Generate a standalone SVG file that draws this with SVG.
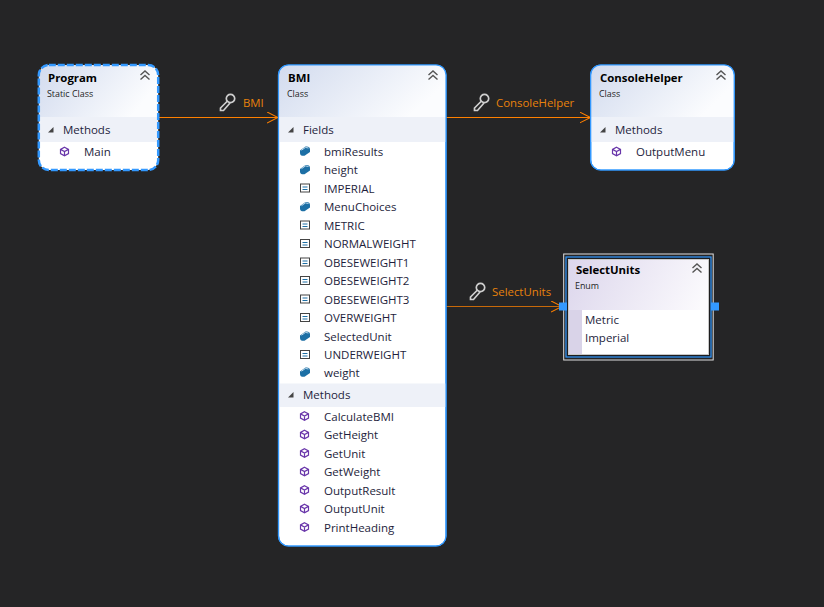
<svg xmlns="http://www.w3.org/2000/svg" width="824" height="607" viewBox="0 0 824 607">
<style>
text{font-family:"Open Sans","Noto Sans","Liberation Sans",sans-serif;font-size:11.5px;fill:#1e1e3c}
.t{font-weight:700;font-size:11.4px;fill:#000}
.s{font-size:8.9px;fill:#1e1e1e}
.l{fill:#e8820c;font-size:11.4px}
.box{fill:#fff;stroke:#3399ff;stroke-width:1.2}
.sec{fill:#eef1f8}
.conn{fill:none;stroke:#ff8000;stroke-width:1.2}
.chev{fill:none;stroke:#555;stroke-width:1.4}
</style>
<defs>
<linearGradient id="hb" x1="0" y1="0" x2="1" y2="0.35"><stop offset="0" stop-color="#d2dbee"/><stop offset="1" stop-color="#fbfcfe"/></linearGradient>
<linearGradient id="he" x1="0" y1="0" x2="1" y2="0.35"><stop offset="0" stop-color="#dcd6ec"/><stop offset="1" stop-color="#fbfafd"/></linearGradient>
<marker id="arr" viewBox="0 0 12 12" refX="11" refY="6" markerWidth="12" markerHeight="12" markerUnits="userSpaceOnUse" orient="auto"><path d="M0 0.5L11 6L0 11.5" fill="none" stroke="#ff8000" stroke-width="1.1"/></marker>
<g id="chevrons"><path class="chev" d="M-4.5 -1L0 -5L4.5 -1M-4.5 3.5L0 -0.5L4.5 3.5"/></g>
<g id="tri"><path d="M-3 2.500L2.500 2.500L2.500 -3Z" fill="#444"/></g>
<g id="method"><path d="M0 -4.300L4 -2.100L4 2.100L0 4.300L-4 2.100L-4 -2.100Z M-4 -2.100L0 0L4 -2.100M0 0L0 4.300" fill="none" stroke="#6936aa" stroke-width="1.2"/></g>
<g id="field"><path d="M-5 -0.500L0.500 -4.500Q5 -5 5 -1.500L5 1L-0.500 4.800Q-5 5.200 -5 2Z" fill="#1c6fa5"/><path d="M-3.500 -0.800L0.500 -3.600L3.500 -3" fill="none" stroke="#cfe3f0" stroke-width="0.9"/></g>
<g id="const"><rect x="-4.500" y="-4" width="9" height="8" fill="#fff" stroke="#444" stroke-width="1"/><path d="M-2.500 -1H2.500M-2.500 1.500H2.500" stroke="#1c6fa5" stroke-width="1"/></g>
<g id="key"><circle cx="3.500" cy="-3.500" r="4.200" fill="none" stroke="#cfcfcf" stroke-width="1.700"/><path d="M0.500 -1L-6.500 6L-6.500 8.500L-3.500 8.500L3 1" fill="none" stroke="#cfcfcf" stroke-width="1.700"/></g>
</defs>
<rect width="824" height="607" fill="#252526"/>

<g id="connectors">
<path class="conn" d="M158 117.500H278" marker-end="url(#arr)"/>
<path class="conn" d="M446 117.500H590.500" marker-end="url(#arr)"/>
<path class="conn" d="M446 306.500H562" stroke-opacity="0.75" marker-end="url(#arr)"/>
<use href="#key" x="227" y="102"/><text class="l" x="243" y="107">BMI</text>
<use href="#key" x="481" y="102"/><text class="l" x="496" y="107">ConsoleHelper</text>
<use href="#key" x="477" y="291"/><text class="l" x="492" y="296">SelectUnits</text>
</g>

<g id="node-program">
<rect x="38.800" y="65" width="119.400" height="105" rx="10" fill="#fff"/>
<path d="M39 117V75a10 10 0 0 1 10-10H148a10 10 0 0 1 10 10V117Z" fill="url(#hb)"/>
<rect class="sec" x="39" y="117" width="119" height="25"/>
<rect x="38.800" y="65" width="119.400" height="105" rx="10" fill="none" stroke="#3399ff" stroke-width="2.500" stroke-dasharray="7 2"/>
<text class="t" x="48" y="82">Program</text><text class="s" x="47" y="97">Static Class</text>
<use href="#chevrons" x="145" y="76"/><use href="#tri" x="51" y="130"/>
<text x="63" y="134">Methods</text>
<use href="#method" x="64.500" y="151.500"/><text x="84" y="156">Main</text>
</g>

<g id="node-bmi">
<rect class="box" x="278.500" y="65" width="167.500" height="481" rx="10"/>
<path d="M279 117V75a10 10 0 0 1 10-10H436a10 10 0 0 1 10 10V117Z" fill="url(#hb)"/>
<rect class="sec" x="279" y="117" width="167" height="25"/>
<rect class="sec" x="279" y="383.500" width="167" height="23.500"/>
<rect x="278.500" y="65" width="167.500" height="481" rx="10" fill="none" stroke="#3399ff" stroke-width="1.200"/>
<text class="t" x="288" y="82">BMI</text><text class="s" x="287" y="97">Class</text>
<use href="#chevrons" x="433" y="76"/><use href="#tri" x="291" y="130"/>
<text x="303" y="134">Fields</text>
<use href="#field" x="305" y="151"/><text x="324" y="156">bmiResults</text>
<use href="#field" x="305" y="169.500"/><text x="324" y="174">height</text>
<use href="#const" x="305" y="188"/><text x="324" y="193">IMPERIAL</text>
<use href="#field" x="305" y="206.500"/><text x="324" y="211">MenuChoices</text>
<use href="#const" x="305" y="225"/><text x="324" y="230">METRIC</text>
<use href="#const" x="305" y="243.500"/><text x="324" y="248">NORMALWEIGHT</text>
<use href="#const" x="305" y="262"/><text x="324" y="267">OBESEWEIGHT1</text>
<use href="#const" x="305" y="280.500"/><text x="324" y="285">OBESEWEIGHT2</text>
<use href="#const" x="305" y="299"/><text x="324" y="304">OBESEWEIGHT3</text>
<use href="#const" x="305" y="317.500"/><text x="324" y="322">OVERWEIGHT</text>
<use href="#field" x="305" y="336"/><text x="324" y="341">SelectedUnit</text>
<use href="#const" x="305" y="354.500"/><text x="324" y="359">UNDERWEIGHT</text>
<use href="#field" x="305" y="372"/><text x="324" y="377">weight</text>
<use href="#tri" x="291" y="395"/><text x="303" y="399">Methods</text>
<use href="#method" x="304.500" y="416"/><text x="324" y="421">CalculateBMI</text>
<use href="#method" x="304.500" y="434.500"/><text x="324" y="439">GetHeight</text>
<use href="#method" x="304.500" y="453"/><text x="324" y="458">GetUnit</text>
<use href="#method" x="304.500" y="471.500"/><text x="324" y="476">GetWeight</text>
<use href="#method" x="304.500" y="490"/><text x="324" y="495">OutputResult</text>
<use href="#method" x="304.500" y="508.500"/><text x="324" y="513">OutputUnit</text>
<use href="#method" x="304.500" y="527"/><text x="324" y="532">PrintHeading</text>
</g>

<g id="node-consolehelper">
<rect class="box" x="590.700" y="65" width="143.500" height="105" rx="10"/>
<path d="M591 117V75a10 10 0 0 1 10-10H724a10 10 0 0 1 10 10V117Z" fill="url(#hb)"/>
<rect class="sec" x="591" y="117" width="143" height="25"/>
<rect x="590.700" y="65" width="143.500" height="105" rx="10" fill="none" stroke="#3399ff" stroke-width="1.200"/>
<text class="t" x="600" y="82">ConsoleHelper</text><text class="s" x="599" y="97">Class</text>
<use href="#chevrons" x="721" y="76"/><use href="#tri" x="603" y="130"/>
<text x="615" y="134">Methods</text>
<use href="#method" x="616.500" y="151.500"/><text x="636" y="156">OutputMenu</text>
</g>

<g id="node-selectunits">
<rect x="563.700" y="254" width="149.500" height="106" fill="#252526" stroke="#e0e0e0" stroke-width="1"/>
<rect x="566" y="257" width="145" height="100" fill="#1d1d1e" stroke="#3399ff" stroke-width="1.200"/>
<rect x="568.500" y="259.500" width="140" height="95" fill="url(#he)" stroke="#c8c8c8" stroke-width="1"/>
<rect x="569" y="310" width="13" height="44" fill="#d9d3e8"/>
<rect x="582" y="310" width="126" height="44" fill="#fff"/>
<text class="t" x="576" y="274">SelectUnits</text><text class="s" x="575" y="289">Enum</text>
<use href="#chevrons" x="697" y="269"/>
<text x="585" y="324">Metric</text><text x="585" y="342">Imperial</text>
<rect x="559" y="302.500" width="8" height="8" fill="#3399ff"/>
<rect x="711" y="302.500" width="8" height="8" fill="#3399ff"/>
</g>
</svg>
